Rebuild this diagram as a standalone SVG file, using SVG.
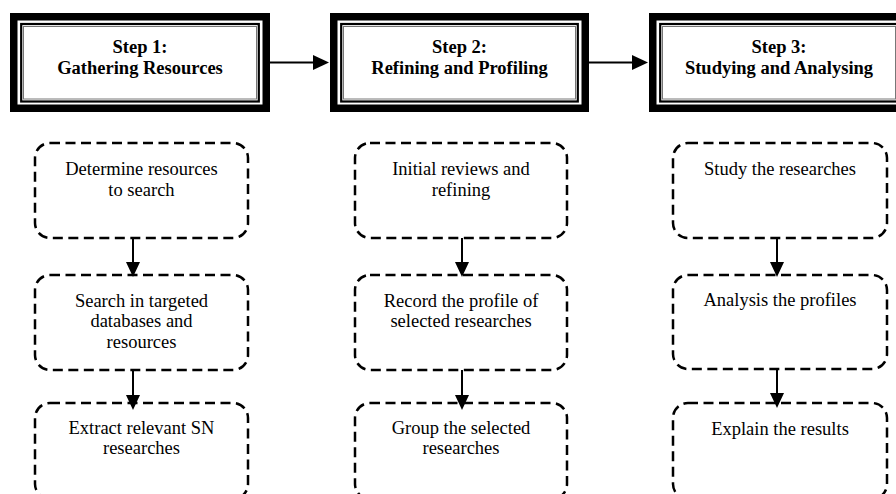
<svg xmlns="http://www.w3.org/2000/svg" width="896" height="494" viewBox="0 0 896 494">
<style>
.hdr-outer{fill:#fff;stroke:#000;stroke-width:7.5}
.hdr-mid{fill:none;stroke:#000;stroke-width:2.2}
.hdr-in{fill:none;stroke:#777;stroke-width:1}
.ht{font-family:"Liberation Serif","Times New Roman",serif;font-size:18.5px;font-weight:bold;text-anchor:middle;fill:#000}
.box{fill:#fff;stroke:#000;stroke-width:2.5;stroke-dasharray:10 5.5}
.bt{font-family:"Liberation Serif","Times New Roman",serif;font-size:18.5px;text-anchor:middle;fill:#000}
.conn line{stroke:#000;stroke-width:2}
.conn polygon{fill:#000}
</style>
<rect width="896" height="494" fill="#fff"/>

<g id="step1">
<rect class="hdr-outer" x="13.75" y="16.75" width="252.5" height="91.5"/>
<rect class="hdr-mid" x="21.2" y="24" width="237.6" height="77.5"/>
<rect class="hdr-in" x="23.5" y="26.5" width="233" height="72.5"/>
<text class="ht" x="140" y="53">Step 1:</text>
<text class="ht" x="140" y="74">Gathering Resources</text>
</g>
<g id="step2">
<rect class="hdr-outer" x="333.75" y="16.75" width="251.5" height="91.5"/>
<rect class="hdr-mid" x="341.2" y="24" width="236.6" height="77.5"/>
<rect class="hdr-in" x="343.5" y="26.5" width="232" height="72.5"/>
<text class="ht" x="459.5" y="53">Step 2:</text>
<text class="ht" x="459.5" y="74">Refining and Profiling</text>
</g>
<g id="step3">
<rect class="hdr-outer" x="652.75" y="16.75" width="252.5" height="91.5"/>
<rect class="hdr-mid" x="660.2" y="24" width="237.6" height="77.5"/>
<rect class="hdr-in" x="662.5" y="26.5" width="233" height="72.5"/>
<text class="ht" x="779" y="53">Step 3:</text>
<text class="ht" x="779" y="74">Studying and Analysing</text>
</g>

<g id="c1b1">
<rect class="box" x="35" y="143" width="213" height="95" rx="15"/>
<text class="bt" x="141.5" y="175">Determine resources</text>
<text class="bt" x="141.5" y="195.5">to search</text>
</g>
<g id="c1b2">
<rect class="box" x="35" y="275" width="213" height="95" rx="15"/>
<text class="bt" x="141.5" y="306.5">Search in targeted</text>
<text class="bt" x="141.5" y="327">databases and</text>
<text class="bt" x="141.5" y="347.5">resources</text>
</g>
<g id="c1b3">
<rect class="box" x="35" y="403" width="213" height="96" rx="15"/>
<text class="bt" x="141.5" y="433.5">Extract relevant SN</text>
<text class="bt" x="141.5" y="454">researches</text>
</g>

<g id="c2b1">
<rect class="box" x="355" y="143" width="212" height="95" rx="15"/>
<text class="bt" x="461" y="175">Initial reviews and</text>
<text class="bt" x="461" y="195.5">refining</text>
</g>
<g id="c2b2">
<rect class="box" x="355" y="275" width="212" height="95" rx="15"/>
<text class="bt" x="461" y="306.5">Record the profile of</text>
<text class="bt" x="461" y="327">selected researches</text>
</g>
<g id="c2b3">
<rect class="box" x="355" y="403" width="212" height="96" rx="15"/>
<text class="bt" x="461" y="433.5">Group the selected</text>
<text class="bt" x="461" y="454">researches</text>
</g>

<g id="c3b1">
<rect class="box" x="673" y="143" width="214" height="95" rx="15"/>
<text class="bt" x="780" y="175">Study the researches</text>
</g>
<g id="c3b2">
<rect class="box" x="673" y="275" width="214" height="94" rx="15"/>
<text class="bt" x="780" y="306">Analysis the profiles</text>
</g>
<g id="c3b3">
<rect class="box" x="673" y="403" width="214" height="96" rx="15"/>
<text class="bt" x="780" y="435">Explain the results</text>
</g>

<g id="connectors" class="conn">
<line x1="270" y1="62.5" x2="315" y2="62.5"/>
<polygon points="313,55 329,62.5 313,70"/>
<line x1="589" y1="62.5" x2="634" y2="62.5"/>
<polygon points="632,55 648,62.5 632,70"/>

<line x1="133" y1="238" x2="133" y2="264"/>
<polygon points="126,262 140,262 133,277"/>
<line x1="133" y1="370" x2="133" y2="397"/>
<polygon points="126,395 140,395 133,410"/>

<line x1="462" y1="238" x2="462" y2="264"/>
<polygon points="455,262 469,262 462,277"/>
<line x1="462" y1="370" x2="462" y2="397"/>
<polygon points="455,395 469,395 462,410"/>

<line x1="777" y1="238" x2="777" y2="264"/>
<polygon points="770,262 784,262 777,277"/>
<line x1="777" y1="369" x2="777" y2="395"/>
<polygon points="770,393 784,393 777,408"/>
</g>
</svg>
